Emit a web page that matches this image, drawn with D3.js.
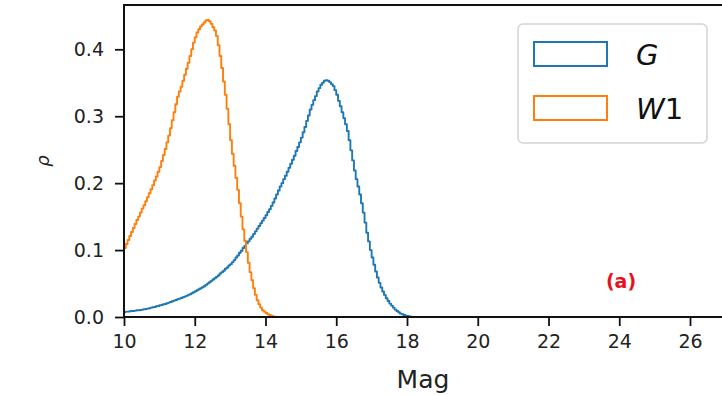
<!DOCTYPE html>
<html>
<head>
<meta charset="utf-8">
<script src="https://cdn.jsdelivr.net/npm/d3@7"></script>
<style>
  body { margin: 0; background: #fff; }
  svg { display: block; font-family: "DejaVu Sans", sans-serif; }
</style>
</head>
<body>
<svg id="chart" width="722" height="395"></svg>
<script>
// Histogram binning (magnitudes)
const binStart = 10.0;
const binWidth = 0.05;

// Normalised density per 0.05-mag bin, G band (one row = 0.5 mag)
const gDensity = [
  0.0075, 0.008, 0.008, 0.0085, 0.009, 0.009, 0.0095, 0.010, 0.010, 0.0105,
  0.011, 0.0115, 0.012, 0.0125, 0.013, 0.014, 0.0145, 0.015, 0.016, 0.0165,
  0.0175, 0.018, 0.019, 0.0195, 0.0205, 0.0215, 0.0225, 0.0235, 0.0245, 0.0255,
  0.0265, 0.0275, 0.0285, 0.0295, 0.0305, 0.0315, 0.033, 0.034, 0.0355, 0.037,
  0.0385, 0.040, 0.0415, 0.043, 0.0445, 0.046, 0.048, 0.050, 0.052, 0.054,
  0.056, 0.058, 0.060, 0.062, 0.065, 0.067, 0.069, 0.072, 0.074, 0.077,
  0.079, 0.082, 0.085, 0.089, 0.092, 0.096, 0.099, 0.103, 0.106, 0.110,
  0.113, 0.117, 0.120, 0.124, 0.128, 0.132, 0.136, 0.140, 0.144, 0.148,
  0.152, 0.157, 0.161, 0.166, 0.171, 0.177, 0.183, 0.189, 0.195, 0.200,
  0.206, 0.211, 0.217, 0.223, 0.229, 0.235, 0.241, 0.248, 0.254, 0.261,
  0.268, 0.276, 0.284, 0.293, 0.301, 0.310, 0.317, 0.324, 0.330, 0.337,
  0.342, 0.347, 0.350, 0.353, 0.354, 0.353, 0.351, 0.348, 0.345, 0.339,
  0.332, 0.323, 0.315, 0.306, 0.297, 0.288, 0.278, 0.264, 0.249, 0.234,
  0.219, 0.206, 0.195, 0.183, 0.170, 0.156, 0.141, 0.126, 0.113, 0.100,
  0.089, 0.078, 0.068, 0.059, 0.051, 0.044, 0.038, 0.033, 0.028, 0.024,
  0.020, 0.017, 0.014, 0.011, 0.009, 0.007, 0.005, 0.004, 0.003, 0.002,
  0.0015, 0.001, 0.0005, 0.0002
];

// Normalised density per 0.05-mag bin, W1 band (one row = 0.5 mag)
const w1Density = [
  0.103, 0.109, 0.115, 0.121, 0.127, 0.133, 0.139, 0.145, 0.150, 0.156,
  0.162, 0.167, 0.173, 0.179, 0.185, 0.191, 0.197, 0.204, 0.210, 0.217,
  0.224, 0.233, 0.242, 0.251, 0.261, 0.271, 0.282, 0.294, 0.306, 0.318,
  0.329, 0.337, 0.344, 0.353, 0.362, 0.371, 0.380, 0.390, 0.400, 0.410,
  0.418, 0.425, 0.430, 0.434, 0.437, 0.440, 0.443, 0.444, 0.442, 0.438,
  0.433, 0.428, 0.420, 0.406, 0.390, 0.372, 0.352, 0.332, 0.311, 0.288,
  0.264, 0.244, 0.226, 0.208, 0.190, 0.170, 0.150, 0.131, 0.114, 0.097,
  0.081, 0.067, 0.055, 0.043, 0.033, 0.025, 0.019, 0.014, 0.010, 0.008,
  0.006, 0.004, 0.003, 0.002, 0.001, 0.0005
];

const xTicks = [10, 12, 14, 16, 18, 20, 22, 24, 26];
const yTicks = [0.0, 0.1, 0.2, 0.3, 0.4];
const seriesNames = ["G", "W1"];

const svg = d3.select("#chart");

// Plot area (right side runs past the visible edge)
const plotLeft = 124, plotTop = 5, plotBottom = 317, plotRight = 740;

const x = d3.scaleLinear().domain([10, 10 + (plotRight - plotLeft) / 35.375]).range([plotLeft, plotRight]);
const y = d3.scaleLinear().domain([0, 0.4662]).range([plotBottom, plotTop]);

svg.append("defs").append("clipPath").attr("id", "plotClip")
  .append("rect").attr("x", plotLeft).attr("y", plotTop - 1)
  .attr("width", plotRight - plotLeft).attr("height", plotBottom - plotTop + 1);

// Build step-histogram outline: edge points with the bin value after each edge
function stepPoints(values) {
  const pts = [[binStart, 0]];
  values.forEach((v, i) => pts.push([binStart + i * binWidth, v]));
  const end = binStart + values.length * binWidth;
  pts.push([end, values[values.length - 1]]);
  pts.push([end, 0]);
  return pts;
}

const line = d3.line()
  .x(d => x(d[0]))
  .y(d => y(d[1]))
  .curve(d3.curveStepAfter);

const series = [
  { name: seriesNames[0], values: gDensity, color: "#1f77b4" },
  { name: seriesNames[1], values: w1Density, color: "#ff7f0e" }
];

const plot = svg.append("g").attr("clip-path", "url(#plotClip)");
series.forEach(s => {
  plot.append("path")
    .attr("d", line(stepPoints(s.values)))
    .attr("fill", "none")
    .attr("stroke", s.color)
    .attr("stroke-width", 1.9)
    .attr("stroke-linejoin", "round");
});

// Axes
const xAxis = d3.axisBottom(x).tickValues(xTicks).tickSize(9).tickPadding(9)
  .tickFormat(d3.format("d"));
const yAxis = d3.axisLeft(y).tickValues(yTicks).tickSize(9).tickPadding(11)
  .tickFormat(d3.format(".1f"));

const gx = svg.append("g").attr("transform", `translate(0,${plotBottom})`).call(xAxis);
const gy = svg.append("g").attr("transform", `translate(${plotLeft},0)`).call(yAxis);

[gx, gy].forEach(g => {
  g.select(".domain").remove();
  g.selectAll(".tick line").attr("stroke", "#111").attr("stroke-width", 1.8);
  g.selectAll(".tick text").attr("fill", "#222").attr("font-size", 19)
    .attr("font-family", "DejaVu Sans, sans-serif");
});

// Spines
svg.append("line").attr("x1", plotLeft).attr("x2", plotRight).attr("y1", plotBottom).attr("y2", plotBottom)
  .attr("stroke", "#111").attr("stroke-width", 2);
svg.append("line").attr("x1", plotLeft).attr("x2", plotRight).attr("y1", plotTop).attr("y2", plotTop)
  .attr("stroke", "#111").attr("stroke-width", 2);
svg.append("line").attr("x1", plotLeft).attr("x2", plotLeft).attr("y1", plotTop - 1).attr("y2", plotBottom + 1)
  .attr("stroke", "#111").attr("stroke-width", 2);

// Axis labels
svg.append("text")
  .attr("x", 423).attr("y", 388)
  .attr("text-anchor", "middle").attr("font-size", 25).attr("fill", "#222")
  .text("Mag");

svg.append("text")
  .attr("transform", "translate(49,161) rotate(-90)")
  .attr("text-anchor", "middle").attr("font-size", 18).attr("font-style", "italic")
  .attr("fill", "#222")
  .text("ρ");

// Panel tag
svg.append("text")
  .attr("x", x(24.05)).attr("y", 288)
  .attr("text-anchor", "middle").attr("font-size", 19).attr("font-weight", "bold")
  .attr("fill", "#e8101e")
  .text("(a)");

// Legend
const legend = svg.append("g");
legend.append("rect")
  .attr("x", 518).attr("y", 24).attr("width", 189).attr("height", 119)
  .attr("rx", 5).attr("fill", "#fff").attr("fill-opacity", 0.85)
  .attr("stroke", "#d4d4d4").attr("stroke-width", 1.5);

series.forEach((s, i) => {
  const rowY = 42 + i * 54;
  legend.append("rect")
    .attr("x", 534).attr("y", rowY).attr("width", 73).attr("height", 24)
    .attr("fill", "none").attr("stroke", s.color).attr("stroke-width", 2);
  const t = legend.append("text")
    .attr("x", 636).attr("y", rowY + 23)
    .attr("font-size", 29).attr("fill", "#111");
  const letters = s.name.match(/^[A-Za-z]+/)[0];
  const rest = s.name.slice(letters.length);
  t.append("tspan").attr("font-style", "italic").text(letters);
  if (rest) t.append("tspan").text(rest);
});
</script>
</body>
</html>
